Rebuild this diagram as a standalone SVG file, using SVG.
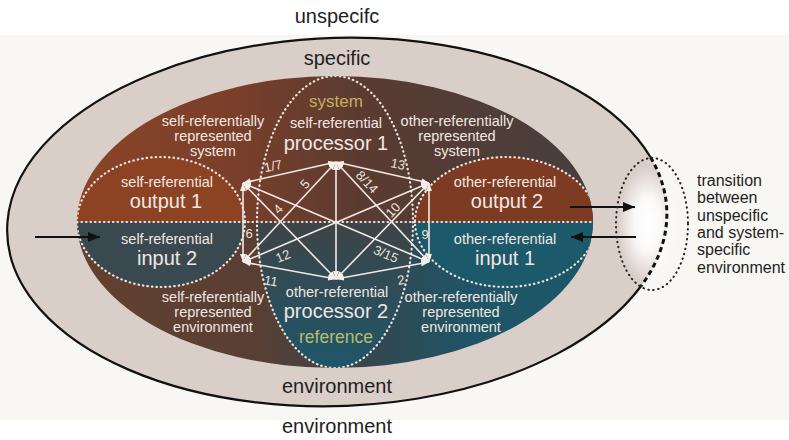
<svg xmlns="http://www.w3.org/2000/svg" width="789" height="440" viewBox="0 0 789 440">
<style>
.t{font-family:"Liberation Sans",Arial,sans-serif;text-anchor:middle}
.dk{fill:#1e1e1e}
.wl{fill:#f1e7e2}
.sm{font-size:14.5px}
.bg{font-size:20px}
.num{font-family:"Liberation Sans",Arial,sans-serif;text-anchor:middle;font-size:13px;fill:#ece2dc}
.dot{fill:none;stroke:#efe3dc;stroke-width:2.2;stroke-dasharray:0.5 4;stroke-linecap:round}
.con{stroke:#f3e9e4;stroke-width:1.6;fill:none;marker-start:url(#wa);marker-end:url(#wa)}
.blk{stroke:#111;stroke-width:2;marker-end:url(#ba)}
</style>
<defs>
<marker id="wa" viewBox="0 0 8 6" refX="8" refY="3" markerWidth="8" markerHeight="6" markerUnits="userSpaceOnUse" orient="auto-start-reverse"><path d="M0,0 L8,3 L0,6 z" fill="#f6eee9"/></marker>
<marker id="ba" viewBox="0 0 12 10" refX="12" refY="5" markerWidth="12" markerHeight="10" markerUnits="userSpaceOnUse" orient="auto"><path d="M0,0 L12,5 L0,10 z" fill="#111"/></marker>
<clipPath id="inner"><ellipse cx="335" cy="222" rx="258" ry="146"/></clipPath>
<linearGradient id="topg" x1="77" y1="0" x2="593" y2="0" gradientUnits="userSpaceOnUse">
<stop offset="0" stop-color="#8a4428"/><stop offset="0.3" stop-color="#7a3f2a"/><stop offset="0.55" stop-color="#5a3b31"/><stop offset="1" stop-color="#463f3d"/>
</linearGradient>
<linearGradient id="botg" x1="77" y1="0" x2="593" y2="0" gradientUnits="userSpaceOnUse">
<stop offset="0" stop-color="#62402f"/><stop offset="0.35" stop-color="#583f33"/><stop offset="0.55" stop-color="#36464c"/><stop offset="0.75" stop-color="#1f5466"/><stop offset="1" stop-color="#1b5869"/>
</linearGradient>
<linearGradient id="procg" x1="0" y1="222" x2="0" y2="368" gradientUnits="userSpaceOnUse">
<stop offset="0" stop-color="#3d4446"/><stop offset="1" stop-color="#1f566a"/>
</linearGradient>
<radialGradient id="glow" cx="0.5" cy="0.5" r="0.5">
<stop offset="0" stop-color="#ffffff"/><stop offset="0.45" stop-color="#ffffff" stop-opacity="0.9"/><stop offset="1" stop-color="#ffffff" stop-opacity="0"/>
</radialGradient>
</defs>

<rect width="789" height="440" fill="#ffffff"/>
<rect x="0" y="35" width="789" height="385" fill="#f8f7f3"/>

<g id="unspecific-environment">
<text class="t dk bg" x="337" y="23">unspecifc</text>
<text class="t dk bg" x="337" y="433">environment</text>
</g>

<g id="specific-environment">
<g transform="rotate(-2 337 222)">
<ellipse cx="337" cy="222" rx="330" ry="184" fill="#d9cec8"/>
</g>
<ellipse cx="648" cy="224" rx="30" ry="58" fill="url(#glow)"/>
<g transform="rotate(-2 337 222)">
<path d="M 638.5 296.8 A 330 184 0 1 1 652.6 168.2" fill="none" stroke="#111" stroke-width="2.2"/>
<path d="M 652.6 168.2 A 330 184 0 0 1 638.5 296.8" fill="none" stroke="#111" stroke-width="3" stroke-dasharray="5 3.5"/>
</g>
<text class="t dk bg" x="337" y="65">specific</text>
<text class="t dk bg" x="337" y="393">environment</text>
</g>

<g id="system-area">
<path d="M 77 222 A 258 146 0 0 1 593 222 Z" fill="url(#topg)"/>
<path d="M 77 222 A 258 146 0 0 0 593 222 Z" fill="url(#botg)"/>
<g clip-path="url(#inner)">
<path d="M 257 222 A 78 146 0 0 0 413 222 Z" fill="url(#procg)"/>
<path d="M 77 222 A 84 65 0 0 1 245 222 Z" fill="#8c4324"/>
<path d="M 77 222 A 84 65 0 0 0 245 222 Z" fill="#3a494f"/>
<path d="M 415 222 A 91 65 0 0 1 597 222 Z" fill="#7c3b22"/>
<path d="M 415 222 A 91 65 0 0 0 597 222 Z" fill="#1c596b"/>
<ellipse class="dot" cx="161" cy="222" rx="84" ry="65"/>
<ellipse class="dot" cx="506" cy="222" rx="91" ry="65"/>
<ellipse class="dot" cx="335" cy="222" rx="78" ry="146"/>
<line class="dot" x1="77" y1="222" x2="593" y2="222"/>
</g>
<text class="t wl sm" x="213" y="126">self-referentially</text>
<text class="t wl sm" x="213" y="141">represented</text>
<text class="t wl sm" x="213" y="156">system</text>
<text class="t wl sm" x="457" y="126">other-referentially</text>
<text class="t wl sm" x="457" y="141">represented</text>
<text class="t wl sm" x="457" y="156">system</text>
<text class="t wl sm" x="213" y="302">self-referentially</text>
<text class="t wl sm" x="213" y="317">represented</text>
<text class="t wl sm" x="213" y="332">environment</text>
<text class="t wl sm" x="461" y="302">other-referentially</text>
<text class="t wl sm" x="461" y="317">represented</text>
<text class="t wl sm" x="461" y="332">environment</text>
</g>

<g id="processor1">
<text class="t" x="336" y="107" font-size="17" fill="#c4ad5e">system</text>
<text class="t wl sm" x="336" y="128">self-referential</text>
<text class="t wl bg" x="336" y="150">processor 1</text>
</g>
<g id="processor2">
<text class="t wl sm" x="337" y="297">other-referential</text>
<text class="t wl bg" x="336" y="318">processor 2</text>
<text class="t" x="336" y="343" font-size="17.5" fill="#b6bf6e">reference</text>
</g>
<g id="output1">
<text class="t wl sm" x="167" y="187">self-referential</text>
<text class="t wl bg" x="166" y="208">output 1</text>
</g>
<g id="input2">
<text class="t wl sm" x="167" y="244">self-referential</text>
<text class="t wl bg" x="167" y="265">input 2</text>
</g>
<g id="output2">
<text class="t wl sm" x="505" y="187">other-referential</text>
<text class="t wl bg" x="507" y="208">output 2</text>
</g>
<g id="input1">
<text class="t wl sm" x="505" y="244">other-referential</text>
<text class="t wl bg" x="505" y="265">input 1</text>
</g>

<g id="connectors">
<line class="con" x1="243" y1="183" x2="336" y2="162"/>
<line class="con" x1="336" y1="162" x2="429" y2="183"/>
<line class="con" x1="243" y1="183" x2="243" y2="262"/>
<line class="con" x1="429" y1="183" x2="429" y2="262"/>
<line class="con" x1="243" y1="262" x2="336" y2="279"/>
<line class="con" x1="336" y1="279" x2="429" y2="262"/>
<line class="con" x1="336" y1="162" x2="336" y2="279"/>
<line class="con" x1="243" y1="183" x2="429" y2="262"/>
<line class="con" x1="429" y1="183" x2="243" y2="262"/>
<line class="con" x1="336" y1="162" x2="243" y2="262"/>
<line class="con" x1="336" y1="162" x2="429" y2="262"/>
<line class="con" x1="243" y1="183" x2="336" y2="279"/>
<line class="con" x1="429" y1="183" x2="336" y2="279"/>
<text class="num" transform="translate(273 166) rotate(-12)" y="4.5">1/7</text>
<text class="num" transform="translate(398 164) rotate(12)" y="4.5">13</text>
<text class="num" transform="translate(305 184) rotate(-47)" y="4.5">5</text>
<text class="num" transform="translate(367 182) rotate(47)" y="4.5">8/14</text>
<text class="num" transform="translate(278 209) rotate(-45)" y="4.5">4</text>
<text class="num" transform="translate(393 210) rotate(-47)" y="4.5">10</text>
<text class="num" transform="translate(249 233)" y="4.5">6</text>
<text class="num" transform="translate(425 234)" y="4.5">9</text>
<text class="num" transform="translate(283 256) rotate(-23)" y="4.5">12</text>
<text class="num" transform="translate(386 254) rotate(23)" y="4.5">3/15</text>
<text class="num" transform="translate(271 281) rotate(10)" y="4.5">11</text>
<text class="num" transform="translate(401 280) rotate(-10)" y="4.5">2</text>
<line class="blk" x1="35" y1="237" x2="100" y2="237"/>
<line class="blk" x1="570" y1="207" x2="635" y2="207"/>
<line class="blk" x1="636" y1="237" x2="571" y2="237"/>
</g>

<g id="transition">
<ellipse cx="652" cy="224" rx="36" ry="66" fill="none" stroke="#222" stroke-width="2" stroke-dasharray="0.5 4.5" stroke-linecap="round"/>
<g font-family="'Liberation Sans',Arial,sans-serif" font-size="16" fill="#1e1e1e">
<text x="697" y="186">transition</text>
<text x="697" y="203.3">between</text>
<text x="697" y="220.6">unspecific</text>
<text x="697" y="238">and system-</text>
<text x="697" y="255.3">specific</text>
<text x="697" y="272.6">environment</text>
</g>
</g>
</svg>
